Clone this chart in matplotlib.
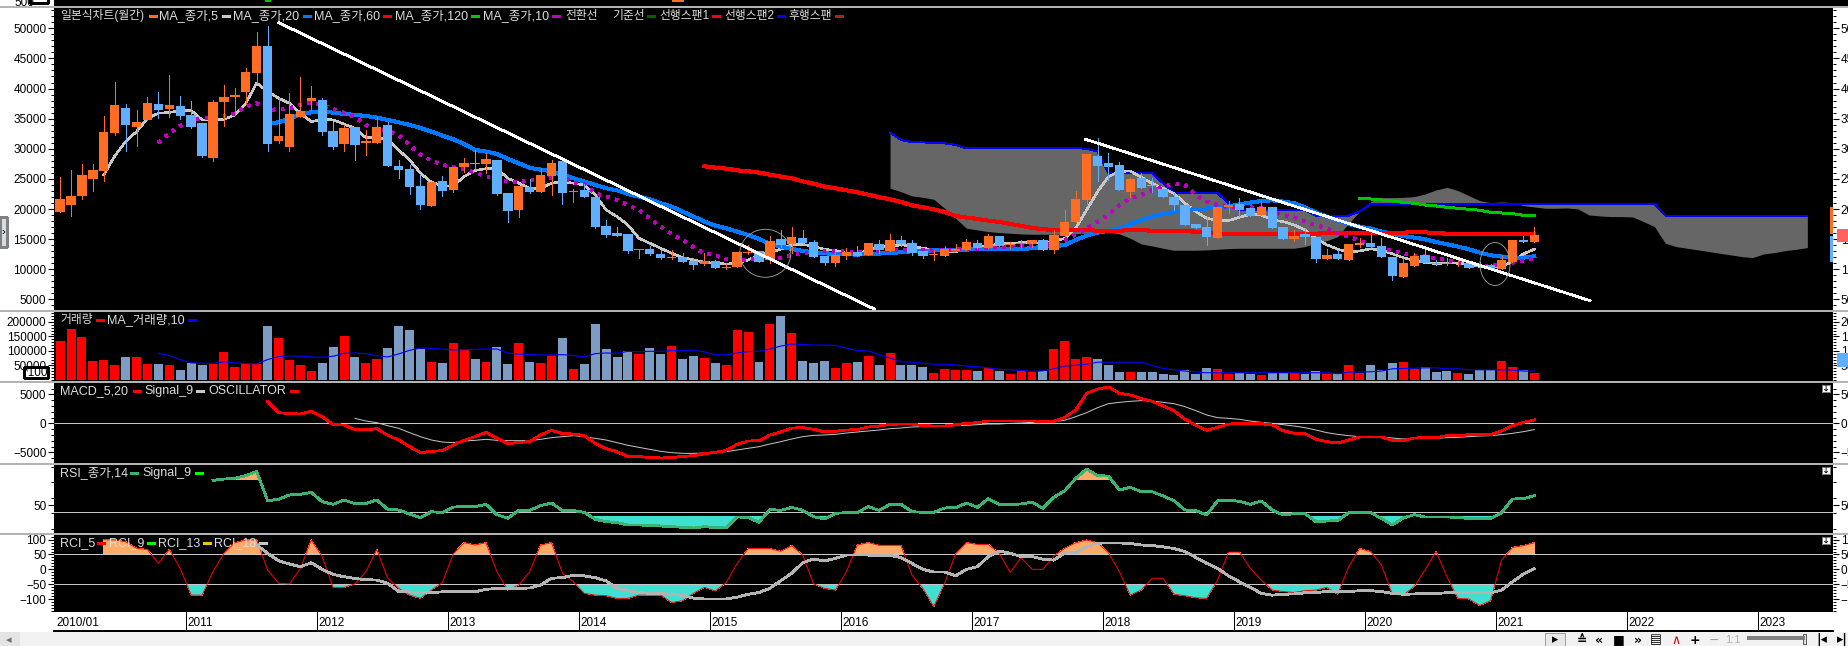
import numpy as np
import matplotlib
matplotlib.use('Agg')
import matplotlib.pyplot as plt
from matplotlib.lines import Line2D
from matplotlib.patches import Ellipse, Rectangle
from matplotlib.ticker import MultipleLocator

plt.rcParams['font.family'] = ['Liberation Sans', 'Noto Sans CJK KR', 'DejaVu Sans']
plt.rcParams['lines.antialiased'] = False
plt.rcParams['patch.antialiased'] = False

# monthly candles, 2010/01 .. 2021/04
years = ['2010/01', '2011', '2012', '2013', '2014', '2015', '2016', '2017', '2018', '2019', '2020', '2021', '2022', '2023']

opens = [19500,20700,22200,25000,26300,32600,36800,33600,34800,37450,36600,37100,35600,34300,28400,37800,38600,39400,42600,47050,
         31300,30350,35200,37950,38100,32950,30800,33650,31000,31000,33950,27150,26650,23850,20500,24650,23200,27000,27650,27500,
         28150,22700,19850,23700,22850,25500,28000,22800,23150,22000,17200,16035,15870,13215,13380,12550,11940,12050,11390,10890,
         11390,10230,10395,12720,13050,11560,15040,14210,15200,14540,12220,11060,12220,12880,12390,14210,13050,14870,14370,13050,
         12440,12220,13050,13215,14370,13550,15540,14000,14150,14210,14870,13210,15540,17860,21510,28810,27650,27315,22840,25160,
         24000,23340,22010,20680,17530,17030,15200,20350,20850,20180,19020,20350,17030,15040,15870,15370,11720,12610,11560,14040,
         14370,13880,12050,8740,10560,12390,11110,11110,10840,11000,10600,10700,10060,11225,14870,14540]
closes = [21700,22200,25700,26500,32800,37300,34000,34450,37600,36450,37300,35450,33700,28800,37800,38600,38950,42750,47050,30800,
          32150,35800,36250,38450,32800,30300,33450,30650,31300,33650,27150,26500,23700,20700,24500,23000,27000,27650,27550,28300,
          22500,19700,23850,22850,25650,27650,22700,23000,22000,17050,15700,15537,13050,13380,12550,11940,12050,11225,10720,11390,
          10230,10340,12880,12830,11225,14710,14050,15370,14370,12050,11060,12390,12880,12220,14370,13210,14870,14210,12720,12220,
          12550,13380,13300,14540,13550,15540,13880,14210,14430,14870,13210,15700,17860,21670,29140,27150,26985,23170,25000,23500,
          23830,22010,20680,17360,16870,15370,20350,20680,19850,18860,20350,16920,15040,15590,15430,11720,12390,11720,14210,14320,
          13660,12050,8960,11060,12220,11060,10840,10840,10950,10230,10330,10100,11500,14870,14540,15700]
highs = [25400,26500,27500,27500,35450,41100,37450,36450,38550,39450,42250,38800,37950,34300,38100,40600,40100,43400,49400,50400,
         38400,39300,41900,40400,38450,34500,33950,33650,33150,35350,34500,28150,27300,25800,24500,25500,27000,28500,29800,29300,
         28150,22700,23850,25000,26800,28150,28000,23350,24200,22000,18100,17085,15870,13380,13880,13210,13210,12720,11830,12660,
         11500,11000,12880,14050,13050,15540,16530,17030,16500,14870,12220,12900,13550,13880,14370,14870,15870,15540,14870,13050,
         13210,13880,14210,15040,14870,15870,15540,14600,14870,14870,15040,16530,19850,22990,29140,31800,29250,27815,25100,25930,
         25100,23340,22600,20680,17530,18750,20350,21290,21840,20180,21340,20350,17030,16530,16810,15370,13380,13210,14210,15150,
         15980,15260,12050,11940,12660,13210,11500,11830,11560,11000,11170,10900,12390,14870,15540,17030]
lows = [19500,18900,21700,23000,24700,32350,29650,30500,34800,35050,35250,35000,33500,28700,27900,33850,35600,37450,40900,29700,
        31000,29700,35200,36450,32350,30000,29650,28150,29000,31000,27150,25150,22500,20000,20500,22200,22900,26200,26500,25950,
        22350,17900,18700,22700,22850,22350,20850,21200,22000,16800,15350,15537,12770,11940,12400,11670,11780,11225,10060,10780,
        10230,10060,10395,12550,11225,11000,13770,12660,14200,12050,10730,10560,11780,12220,12390,12660,13050,13880,12390,11890,
        11560,12220,13050,13215,13550,13550,13880,13380,13550,13770,13210,12770,15540,17860,20850,24660,24830,23170,22060,23500,
        22840,22010,19850,17360,16870,14040,15200,19410,18860,18860,19020,16920,15040,14760,14210,11280,11720,11720,11560,13770,
        13660,12050,8240,8740,10560,11000,10700,10700,10560,10230,10300,10100,10060,11225,14540,14540]

ma5_start = 4
ma5 = [25670,28800,31200,32850,35050,35900,36050,36300,36350,34800,34800,34900,35600,37550,40900,39500,38400,37550,35900,34500,
       34900,34800,34100,33400,31850,31850,31500,29800,28150,25950,24450,23850,23850,25400,26400,26700,26700,25100,24300,23450,
       23450,24300,24550,24300,24000,22350,19850,18750,
       17360,15150,14320,13490,12660,11940,11560,11170,11000,10890,11000,11560,12280,12830,13330,14050,14150,13770,13330,13100,
       12660,12660,13100,13770,13770,14050,13880,13490,13210,13050,12940,13210,13600,13880,14210,14320,14430,14430,14320,14600,
       15150,16810,19850,22890,25380,26210,26320,25270,24270,23440,22600,20960,19570,18470,
       18080,18080,18630,19130,19020,18190,17920,17360,16530,15150,14050,13330,12830,13050,13380,13210,12550,11940,11440,11110,
       10950,11060,11000,10840,10450,10450,10450,11280,12550,13330]
ma20_start = 19
ma20 = [34130,34400,34960,35730,36060,36170,36000,35790,35620,35450,35180,34790,34400,33960,33470,32860,32200,31590,30810,29820,
        29540,29150,28320,27600,26830,26550,26280,25700,25120,24570,24010,23460,23100,
        22500,22060,21620,20960,20400,19570,18750,17920,17250,16810,16260,15700,15040,14210,13770,13380,13050,12830,12660,12550,
        12500,12440,12550,12610,12720,12830,13000,13050,13160,13210,13210,13265,13380,13440,13440,13380,13380,13490,13770,13880,
        14000,14870,15590,16090,16370,16810,17470,18190,18750,19190,19520,19850,19970,20100,
        20180,20400,20790,21070,21340,21450,21230,20960,20290,19410,18750,18080,17530,17080,16750,16260,15870,15540,15260,14980,
        14540,14160,13770,13330,12770,12330,12110,11940,11940,12160]
ma10_start = 9
ma10 = [31030,32580,33800,34680,35070,35230,35350,35900,37000,37550,36450,36560,36730,37280,37670,37280,36560,36000,35230,33960,
        33130,33000,32300,30650,28990,28050,27330,26940,26600,26050,25390,25120,24570,24400,24840,25000,25220,25390,24400,24120,
        22620,22070,21520,
        20680,19850,18470,17080,15870,14870,13660,12660,12280,11720,11440,11560,11830,11720,11940,12390,12660,12830,13000,13100,
        12940,12770,12940,13050,13160,13210,13330,13210,13100,13210,13330,13330,13380,13550,13660,13770,13880,14000,14000,14210,
        14870,15700,16810,17920,19020,20680,21790,22340,23170,23720,24165,24000,22340,21230,
        20680,20290,20290,20290,20130,19580,19020,18630,17915,17360,16810,15980,15430,14760,14040,13490,13050,12660,12280,12110,
        11830,11560,11110,10840,10620,10560,10890,11110,11440,11830]
ma60_start = 59
ma60 = [27095,26875,26710,26430,26270,26045,25710,25380,25100,24600,24220,23720,23445,23110,22780,22395,21950,21620,21180,20630,
        20290,19960,19520,18855,18580,18360,18080,17860,17530,17200,16870,16645,16530,16480,16480,16480,16420,16420,16420,16480,
        16480,16420,16370,16370,16310,16260,16200,15815,15815,15815,15815,15815,15815,15815,15870,15925,15925,15980,
        15980,15980,15980,16035,16035,16090,16090,16145,16145,15980,15925,15815,15815,15815,15815,15815,15815,15815,15815]
ma120_start = 119
ma120 = [21730,21675,21510,21340,21120,20960,20680,20510,20290,20130,19960,19800,19460,19350,19240,18970,18860]

# ichimoku spans, running on into the future months
span_start = 76
span_a = [23446,22893,22174,21952,21620,20128,18469,16810,16533,16256,16091,15980,15870,15814,15814,15814,15814,15925,15980,16091,
          16201,15870,15150,14210,13879,13492,13160,13160,13160,13215,13326,13437,13492,13492,13492,13492,13492,13492,13768,14321,
          14763,15427,17639,19575,21233,21897,21897,21952,22063,22506,23169,23611,23058,22229,21400,21068,21178,21068,20570,20349,
          20128,20128,20183,20017,19021,18856,18745,18745,18690,17916,17086,14321,13768,13492,13215,12939,12662,12386,12109,11943,
          12551,12773,13104,13326,13603]
span_b = [32680,31460,31077,31077,30911,30911,30635] + [30080]*11 + [30026,29530] + [25935]*5 + [24275] + [22616]*5 + [20957] \
         + [19850]*7 + [18911]*4 + [19575] + [20846]*27 + [18911]*14

trend1_x = [20.03, 74.6]
trend1_y = [50930, 3360]
trend2_x = [93.9, 140.1]
trend2_y = [31577, 4790]

volume = [135200,176000,148800,67000,70400,53400,80650,80650,56800,56800,53400,32950,60200,53400,56800,97700,43170,60200,56800,186300,
          145400,70400,53400,29500,60200,114700,152200,80650,60200,73800,111300,186300,172700,107900,63600,60200,128400,107900,73800,63600,
          114700,56800,128400,63600,60200,84000,145400,36350,56800,193100,107900,80650,101100,90900,111300,90900,118100,73800,84000,77200,
          60200,53400,172700,165900,63600,193100,220400,162400,67000,60200,67000,39760,60200,63600,84000,53400,94300,50000,53400,43200,
          22700,36350,32950,32950,29500,39760,29500,19300,29500,26100,29500,107900,135200,73800,80650,73800,50000,26100,26100,26100,
          26100,19300,15900,32950,19300,39760,36350,19300,25000,19300,15900,22700,22700,22700,19300,29500,19300,19300,53400,22700,
          53400,32950,60200,63600,36350,43200,26100,29500,22700,19300,32950,32950,67000,43200,32950,22700]
vol_ma_start = 9
vol_ma = [92000,84000,70400,59000,58000,56800,62500,59000,56800,55700,70400,80650,83000,81800,79500,78400,81800,92000,93150,90900,
          84000,79500,89700,102200,110200,109000,106800,103400,104500,105600,106800,106800,93150,88600,87500,86300,86300,87500,84000,79500,
          90900,93150,92000,98800,97700,98800,98800,101100,101100,103400,96600,87500,86300,93150,97700,98800,106800,117000,123800,122700,
          120400,120400,119300,110200,101100,100000,87500,76100,62500,61400,58000,54500,54500,52300,47700,45400,42000,36350,35200,33000,
          29500,31800,38600,47700,51100,54500,61400,61400,61400,61400,61400,50000,39760,35200,30700,27300,25000,25000,25000,25000,
          25000,25000,25000,25000,25000,25000,25000,25000,21600,27300,27300,28400,30700,38600,39760,40900,42000,42000,38600,38600,
          35200,35200,35200,35200,34000,30700,30700]

macd_start = 19
macd = [3740,1840,1670,1610,2070,1150,-230,-290,-1090,-1090,-920,-2070,-2875,-4025,-5060,-4830,-4715,-3740,-2930,-2300,
        -1550,-2590,-3510,-3280,-3160,-2010,-1210,-1780,-1840,-2130,-3450,-4370,-4890,
        -5750,-5750,-5865,-5980,-5920,-5690,-5580,-5230,-5000,-4660,-3620,-3050,-2990,-2010,-1495,-805,-750,-1035,-1495,-1380,
        -1150,-1090,-630,-460,-170,-115,-115,-400,-460,-460,-230,0,115,400,400,400,400,400,345,345,
        1035,2300,5175,5920,6270,5175,4890,4255,3795,2990,2185,690,-290,-1210,-690,
        -115,-60,-60,-60,-290,-1265,-1725,-1780,-2760,-3160,-3390,-2875,-2360,-2360,-2360,-2930,-2990,-2530,-2470,-2470,
        -2130,-2130,-1955,-1955,-1955,-1320,-400,170,575]
signal_start = 27
signal = [860,400,115,-400,-860,-1610,-2300,-2875,-3220,-3335,-3050,-2930,-2760,-2930,-2990,-2990,-2990,-2760,-2470,-2300,
          -2130,-2300,-2590,-2875,-3335,
          -3795,-4140,-4485,-4830,-5060,-5175,-5175,-5120,-5000,-4890,-4600,-4310,-4025,-3565,-3160,-2700,-2300,-2070,-2010,-1900,
          -1670,-1495,-1320,-1150,-920,-805,-630,-575,-575,-520,-400,-345,-230,-115,-115,0,60,170,230,290,
          520,1150,1840,2700,3390,3620,3795,3910,3850,3620,3390,2875,2185,1440,980,
          860,690,400,170,0,-230,-460,-750,-1150,-1610,-1900,-2130,-2300,-2240,-2360,-2530,-2700,-2645,-2590,-2590,
          -2470,-2415,-2300,-2185,-2130,-1955,-1725,-1440,-1090]

rsi_start = 14
rsi = [82.3,84,85,88.4,94,56,57.8,63.4,64.2,66.8,54.7,51.3,56.9,52.2,52.2,56.9,44.8,44,38.8,34,
       41.8,40.5,47.8,48.3,48.3,51.3,37.9,33.2,43.5,43.5,49.6,53,43.1,43.1,41,31.9,28.9,27.6,
       24.6,24.6,24.1,23.3,22.4,21.6,20.7,22.4,21.1,20.7,34.9,34.5,28,44.8,43.5,47.4,43.5,35.3,32.3,39.7,
       40.5,40.5,48.3,43.5,51.3,51.3,41.8,41,41,46.6,47,53,47.4,58.6,51.3,51.3,51.7,54.3,46.1,60.3,
       69,84.9,97,88.4,87.9,69.8,73.3,67.7,67.7,62.1,56,44,43.1,37.5,56,
       56.5,55.2,51.3,55.6,44,37.5,39.2,39.2,28.9,29.7,30.2,40.5,40.5,40.5,33.2,24.6,33.6,37.9,34.9,34.9,
       34.9,34.5,32.8,32.8,32.8,40.5,58.2,58.6,62.5]
rsi_guide = 42
rsi_high = 84
rsi_low = 35.8

rci_fast_start = 4
rci_fast = [100,99,93,71,67,20,67,3,-87,-87,-8,54,90,99,100,-2,-47,-49,3,99,43,-61,-61,-49,-8,67,-30,-64,-87,-98,
            -70,-45,52,90,82,90,-8,-70,-53,-8,82,90,-13,-42,-81,-87,-89,-98,
            -98,-87,-87,-87,-112,-106,-81,-61,-73,-45,20,70,70,70,61,80,48,-49,-64,-70,-8,82,90,81,81,81,-19,-64,-126,-47,
            52,90,84,84,54,-10,39,0,0,45,71,90,99,90,56,-8,-87,-70,-30,-30,-84,-89,-96,-98,-36,
            58,58,3,-36,-70,-75,-78,-72,-70,-61,-84,9,70,60,15,-84,-87,-58,-2,60,-25,-98,-100,-122,-106,31,74,80,90]
rci_slow_start = 18
rci_slow = [82,54,29,18,9,22,0,-17,-25,-31,-35,-36,-47,-75,-76,-78,-78,-76,-75,-76,-76,-67,-65,-65,-64,-63,-53,-30,-28,-20,-22,-28,-39,-64,
            -72,-78,-81,-81,-84,-88,-97,-100,-100,-100,-94,-84,-78,-64,-38,-13,22,35,28,37,48,48,48,47,47,40,20,0,-9,-9,
            -22,0,9,43,62,54,43,43,34,31,56,56,76,88,89,89,87,82,80,76,70,60,40,20,3,
            -22,-42,-61,-81,-87,-84,-83,-79,-78,-75,-76,-75,-72,-72,-75,-81,-84,-83,-81,-81,-79,-79,-79,-79,-79,-70,-42,-16,2]

ORANGE = '#FF6C23'
SKY = '#60AEFF'
W, H = 1849, 646
fig = plt.figure(figsize=(W/100, H/100), dpi=100, facecolor='white')

def pane(y0, y1, ylim, major, minor):
    # axes placed by pixel rows, all panes share the same month scale
    ax = fig.add_axes([54/W, 1-y1/H, (1833-54)/W, (y1-y0)/H], facecolor='black')
    ax.set_xlim(-0.56, 162.35)
    ax.set_ylim(*ylim)
    ax.set_xticks([])
    ax.set_yticks(major)
    ax.yaxis.set_minor_locator(MultipleLocator(minor))
    ax.tick_params(axis='y', which='major', left=True, right=True, labelleft=True, labelright=True,
                   length=4, width=0.8, labelsize=8.5, pad=1.5)
    ax.tick_params(axis='y', which='minor', left=True, right=True, length=2, width=0.7)
    for s in ax.spines.values():
        s.set_visible(False)
    return ax

def xs(start, values):
    return np.arange(start, start + len(values))

def legend(y, items):
    for text, color, x in items:
        if text:
            # the all-hangul names run narrower than the mixed ones
            size = 8.5 if text[0] > '\u1000' else 9
            fig.text(x/W, 1-y/H, text, color='#DDDDDD', fontsize=size, va='center', ha='left')
        else:
            fig.add_artist(Line2D([x/W, (x+6)/W], [1-y/H, 1-y/H], color=color, lw=1.8, transform=fig.transFigure))

# price pane
ax = pane(8, 309.5, (3328, 53369), np.arange(5000, 50001, 5000), 1000)
o = np.array(opens)
c = np.array(closes)
idx = np.arange(len(o))
up = c >= o
cols = [ORANGE if u else SKY for u in up]

sx = xs(span_start, span_a)
ax.fill_between(sx, span_a, span_b, color='#666666', lw=0, zorder=1, antialiased=False)
ax.plot(sx, span_b, color='#0000FF', lw=0.7, zorder=1.5)

ax.plot(xs(ma5_start, ma5), ma5, color='#C8C8C8', lw=1.1, zorder=2)
ax.plot(xs(ma20_start, ma20), ma20, color='#0078FF', lw=2.2, zorder=2)
ax.plot(xs(ma60_start, ma60), ma60, color='#FF0000', lw=2.2, zorder=2)
ax.plot(xs(ma120_start, ma120), ma120, color='#00C800', lw=1.4, zorder=2)
ax.plot(xs(ma10_start, ma10), ma10, color='#C000C0', lw=2.0, ls=(0, (1, 2.2)), zorder=2)

ax.vlines(idx, lows, highs, colors=cols, lw=0.6, zorder=3)
ax.bar(idx, np.maximum(np.abs(c - o), 120), bottom=np.minimum(o, c), width=0.86, color=cols, zorder=3.5)

ax.plot(trend1_x, trend1_y, color='white', lw=1.3, zorder=5)
ax.plot(trend2_x, trend2_y, color='white', lw=1.3, zorder=5)
ax.add_patch(Ellipse((64.58, 12656), 4.67, 7967, fill=False, ec='#A8A8A8', lw=0.6, zorder=5, antialiased=True))
ax.add_patch(Ellipse((131.4, 10880), 2.75, 7137, fill=False, ec='#A8A8A8', lw=0.6, zorder=5, antialiased=True))

legend(16, [('일본식차트(월간)', None, 60), (None, ORANGE, 150), ('MA_종가,5', None, 159), (None, '#C8C8C8', 223),
            ('MA_종가,20', None, 233), (None, '#0078FF', 304), ('MA_종가,60', None, 314), (None, '#FF0000', 384),
            ('MA_종가,120', None, 395), (None, '#00C800', 472), ('MA_종가,10', None, 483), (None, '#C000C0', 553),
            ('전환선', None, 565), ('기준선', None, 612), (None, '#006000', 648), ('선행스팬1', None, 659), (None, '#FF0000', 713),
            ('선행스팬2', None, 724), (None, '#0000FF', 778), ('후행스팬', None, 788), (None, '#A03000', 836)])

# volume pane
ax = pane(311.5, 381, (-3400, 236000), [50000, 100000, 150000, 200000], 10000)
ax.bar(idx, volume, width=0.82, color=['#FF0000' if u else '#7C9CC4' for u in up], zorder=2)
ax.plot(xs(vol_ma_start, vol_ma), vol_ma, color='#0000FF', lw=0.8, zorder=3, antialiased=True)
legend(320, [('거래량', None, 60), (None, '#FF0000', 97), ('MA_거래량,10', None, 107), (None, '#0000FF', 189)])

# macd pane
ax = pane(383, 463, (-6842, 6957), [-5000, 0, 5000], 1000)
ax.axhline(0, color='#C8C8C8', lw=0.6, zorder=1)
ax.plot(xs(signal_start, signal), signal, color='#C8C8C8', lw=0.7, zorder=2, antialiased=True)
ax.plot(xs(macd_start, macd), macd, color='#FF0000', lw=1.3, zorder=3)
legend(391, [('MACD_5,20', None, 60), (None, '#FF0000', 134), ('Signal_9', None, 144), (None, '#C8C8C8', 197),
             ('OSCILLATOR', None, 208), (None, '#FF0000', 291)])

# rsi pane
ax = pane(465, 533, (14.2, 102.2), [50], 20)
r = np.array(rsi, dtype=float)
rx = xs(rsi_start, rsi)
ax.axhline(rsi_guide, color='#C8C8C8', lw=0.6, zorder=1)
ax.fill_between(rx, r, rsi_high, where=r > rsi_high, interpolate=True, color='#FFAA66', lw=0, zorder=2)
ax.fill_between(rx, r, rsi_low, where=r < rsi_low, interpolate=True, color='#40E0D0', lw=0, zorder=2)
ax.plot(rx, r, color='#3CB371', lw=1.3, zorder=3)
legend(473, [('RSI_종가,14', None, 60), (None, '#3CB371', 131), ('Signal_9', None, 142), (None, '#00FF00', 196)])

# rci pane
ax = pane(535, 611.5, (-142.1, 115.7), [-100, -50, 0, 50, 100], 10)
f = np.array(rci_fast, dtype=float)
fx = xs(rci_fast_start, rci_fast)
ax.fill_between(fx, f, 50, where=f > 50, interpolate=True, color='#FFAA66', lw=0, zorder=1)
ax.fill_between(fx, f, -50, where=f < -50, interpolate=True, color='#40E0D0', lw=0, zorder=1)
ax.axhline(50, color='#C8C8C8', lw=0.6, zorder=1.5)
ax.axhline(-50, color='#C8C8C8', lw=0.6, zorder=1.5)
ax.plot(fx, f, color='#FF0000', lw=0.7, zorder=2, antialiased=True)
ax.plot(xs(rci_slow_start, rci_slow), rci_slow, color='#B4B4B4', lw=1.3, zorder=3)
legend(543, [('RCI_5', None, 60), (None, '#FF0000', 98), ('RCI_9', None, 109), (None, '#00FF00', 148),
             ('RCI_13', None, 158), (None, '#FFC000', 204), ('RCI_18', None, 214), (None, '#C8C8C8', 260)])

# date band under the panes
band = fig.add_axes([54/W, 1-630.5/H, (1833-54)/W, 19/H], facecolor='white')
band.set_xlim(-0.56, 162.35)
band.set_ylim(0, 1)
band.set_yticks([])
band.set_xticks([])
for s in band.spines.values():
    s.set_visible(False)
band.spines['bottom'].set_visible(True)
band.spines['bottom'].set_linewidth(1.2)
year_pos = np.arange(len(years)) * 12 - 0.5
for pos, label in zip(year_pos, years):
    if label != '2010/01':
        band.axvline(pos, color='black', lw=0.6)
    band.text(pos + 0.12, 0.38, label, fontsize=8.5, va='center', ha='left', color='black')

# frame bits
def rect(x0, y0, x1, y1, **kw):
    fig.add_artist(Rectangle((x0/W, 1-y1/H), (x1-x0)/W, (y1-y0)/H, transform=fig.transFigure, **kw))

rect(54, 0, W, 6, fc='black', ec='none')
rect(265, 0, 271, 2, fc='#00C800', ec='none')
rect(672, 0, 684, 1.5, fc=ORANGE, ec='none')
for y in (6, 309.5, 381, 463, 533):
    rect(0, y, W, y + 2, fc='#B4B4B4', ec='none')
fig.text(14/W, 1-3/H, '500', fontsize=8.5, va='center', color='black')
rect(30, -2, 48, 2.5, fc='white', ec='black', lw=0.8)
rect(24.5, 367, 48, 378, fc='white', ec='black', lw=0.9)
fig.text(36.2/W, 1-372.5/H, '*100', fontsize=8.5, va='center', ha='center', color='black')
rect(0, 217, 7, 247, fc='#D8DCE0', ec='#808080', lw=0.8)
fig.text(3.5/W, 1-232/H, '›', fontsize=8, va='center', ha='center', color='black')
rect(1830, 207, 1833, 234, fc=ORANGE, ec='none')
rect(1830, 236, 1833, 262, fc=SKY, ec='none')
rect(1837, 229, W, 242, fc='#FF6060', ec='none')
rect(1837, 353, W, 367, fc=SKY, ec='none')
for y in (388, 470, 540):
    rect(1822, y-3.5, 1830, y+3.5, fc='white', ec='#808080', lw=0.6)
    fig.text(1826/W, 1-y/H, '↧', fontsize=7, va='center', ha='center', color='black', family='DejaVu Sans')

# bottom toolbar
rect(0, 631.5, W, H, fc='#F2F2F2', ec='none')
rect(0, 631.5, 20, H, fc='#E4E4E4', ec='none')
fig.text(9/W, 1-640/H, '◂', fontsize=8, va='center', ha='center', color='#707070', family='DejaVu Sans')
rect(1545, 633, 1565, 646, fc='#E8E8E8', ec='#A0A0A0', lw=0.6)
toolbar_x = [1555, 1582, 1599, 1619, 1638, 1656, 1695, 1822, 1842]
toolbar_glyphs = ['▸', '≙', '«', '■', '»', '▤', '+', '|◂', '▸|']
for x, g in zip(toolbar_x, toolbar_glyphs):
    fig.text(x/W, 1-640/H, g, fontsize=9, va='center', ha='center', color='black', fontweight='bold', family='DejaVu Sans')
fig.text(1676/W, 1-640/H, '∧', fontsize=9, va='center', ha='center', color='#D00000', family='DejaVu Sans')
fig.text(1714/W, 1-640/H, '−', fontsize=9, va='center', ha='center', color='#A0A0A0', family='DejaVu Sans')
fig.text(1733/W, 1-640/H, '1:1', fontsize=8, va='center', ha='center', color='#B0B0B0')
fig.add_artist(Line2D([1749/W, 1803/W], [1-638/H, 1-638/H], color='#808080', lw=1.5, transform=fig.transFigure))
rect(1803, 634, 1806, 644, fc='#E0E0E0', ec='#606060', lw=0.5)

fig.savefig('out.png', dpi=100, facecolor='white')
